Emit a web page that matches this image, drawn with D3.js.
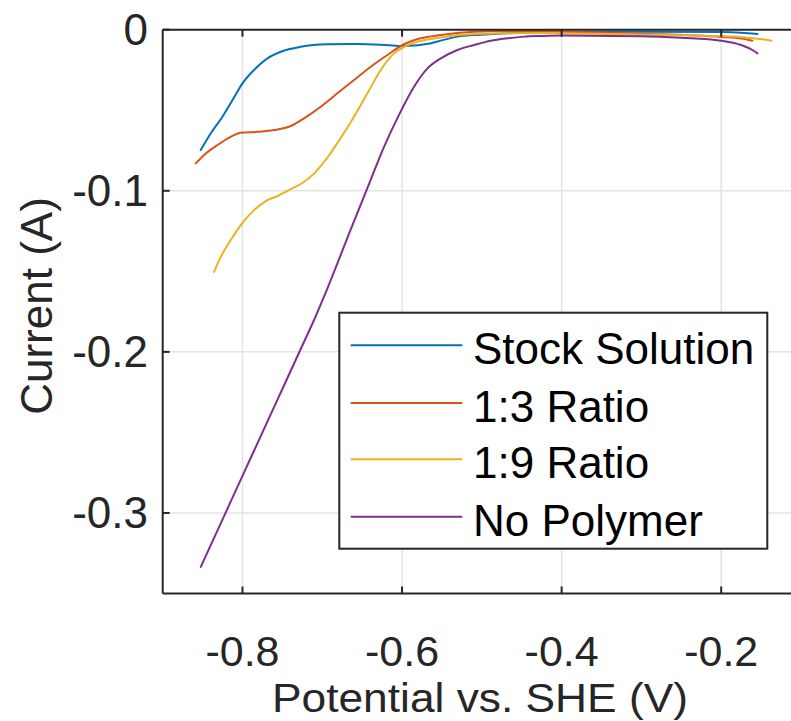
<!DOCTYPE html>
<html>
<head>
<meta charset="utf-8">
<script src="https://cdn.jsdelivr.net/npm/d3@7"></script>
<style>
  html, body { margin: 0; padding: 0; background: #fff; overflow: hidden; }
  svg { display: block; }
  text { font-family: "Liberation Sans", Arial, Helvetica, sans-serif; }
</style>
</head>
<body>
<svg id="chart" width="791" height="721"></svg>
<script>
// ---------- data ----------
const seriesNames = ["Stock Solution", "1:3 Ratio", "1:9 Ratio", "No Polymer"];
const seriesColors = ["#0072BD", "#D95319", "#EDB120", "#7E2F8E"];

const xTicks = [-0.8, -0.6, -0.4, -0.2];
const xTickLabels = ["-0.8", "-0.6", "-0.4", "-0.2"];
const yTicks = [0, -0.1, -0.2, -0.3];
const yTickLabels = ["0", "-0.1", "-0.2", "-0.3"];

const stockV = [-0.8523,-0.8397,-0.8251,-0.8125,-0.8000,-0.7855,-0.7687,-0.7520,-0.7269,-0.6935,-0.6601,-0.6267,-0.6018,-0.5800,-0.5650,-0.5515,-0.5306,-0.5014,-0.4679,-0.4262,-0.4000,-0.3000,-0.2000,-0.1750,-0.1546];
const stockI = [-0.0747,-0.0643,-0.0540,-0.0437,-0.0333,-0.0250,-0.0178,-0.0137,-0.0106,-0.0091,-0.0089,-0.0093,-0.0101,-0.0096,-0.0086,-0.0068,-0.0043,-0.0031,-0.0022,-0.0017,-0.0013,-0.0012,-0.0015,-0.0019,-0.0027];

const r13V = [-0.8585,-0.8481,-0.8313,-0.8147,-0.8021,-0.7812,-0.7604,-0.7395,-0.7228,-0.7019,-0.6810,-0.6602,-0.6392,-0.6183,-0.5995,-0.5766,-0.5515,-0.5098,-0.4679,-0.4262,-0.4000,-0.3000,-0.2000,-0.1750,-0.1610];
const r13I = [-0.0830,-0.0778,-0.0716,-0.0665,-0.0640,-0.0634,-0.0623,-0.0598,-0.0550,-0.0478,-0.0395,-0.0312,-0.0230,-0.0157,-0.0095,-0.0053,-0.0033,-0.0012,-0.0008,-0.0008,-0.0012,-0.0025,-0.0045,-0.0055,-0.0068];

const r19V = [-0.8356,-0.8272,-0.8147,-0.8021,-0.7855,-0.7687,-0.7561,-0.7436,-0.7228,-0.7100,-0.6996,-0.6900,-0.6810,-0.6602,-0.6434,-0.6267,-0.6100,-0.5975,-0.5850,-0.5515,-0.5098,-0.4262,-0.4000,-0.3000,-0.2000,-0.1600,-0.1370];
const r19I = [-0.1503,-0.1410,-0.1306,-0.1213,-0.1120,-0.1058,-0.1033,-0.1000,-0.0944,-0.0892,-0.0832,-0.0770,-0.0703,-0.0540,-0.0395,-0.0250,-0.0147,-0.0106,-0.0081,-0.0048,-0.0027,-0.0020,-0.0022,-0.0030,-0.0039,-0.0053,-0.0068];

const noPolV = [-0.8523,-0.8356,-0.8188,-0.8000,-0.7771,-0.7520,-0.7270,-0.7103,-0.6977,-0.6643,-0.6392,-0.6226,-0.6040,-0.5850,-0.5682,-0.5515,-0.5306,-0.5098,-0.4889,-0.4679,-0.4471,-0.4262,-0.4000,-0.3000,-0.2500,-0.2000,-0.1750,-0.1610,-0.1546];
const noPolI = [-0.3335,-0.3155,-0.2973,-0.2770,-0.2523,-0.2252,-0.1982,-0.1802,-0.1656,-0.1240,-0.0930,-0.0727,-0.0530,-0.0354,-0.0240,-0.0178,-0.0126,-0.0095,-0.0068,-0.0053,-0.0043,-0.0039,-0.0036,-0.0040,-0.0050,-0.0068,-0.0095,-0.0126,-0.0147];

const seriesV = [stockV, r13V, r19V, noPolV];
const seriesI = [stockI, r13I, r19I, noPolI];

// ---------- layout ----------
const svg = d3.select("#chart");
const pLeft = 162.7, pRight = 801, pTop = 29.7, pBottom = 593.5;
const x = d3.scaleLinear().domain([-0.9, -0.1]).range([pLeft, pRight]);
const y = d3.scaleLinear().domain([-0.35, 0]).range([pBottom, pTop]);
const axisColor = "#262626";
const tickFont = 43;
const titleFont = 40;
const legendFont = 44;

// grid
const grid = svg.append("g");
grid.selectAll("line.gx").data(xTicks).join("line")
  .attr("class", "gx")
  .attr("x1", d => x(d)).attr("x2", d => x(d))
  .attr("y1", pTop).attr("y2", pBottom)
  .attr("stroke", "#e3e3e3").attr("stroke-width", 1.5);
grid.selectAll("line.gy").data(yTicks).join("line")
  .attr("class", "gy")
  .attr("x1", pLeft).attr("x2", pRight)
  .attr("y1", d => y(d)).attr("y2", d => y(d))
  .attr("stroke", "#e3e3e3").attr("stroke-width", 1.5);

// series lines
const line = d3.line().curve(d3.curveMonotoneX);
const plot = svg.append("g");
seriesNames.forEach((name, i) => {
  const pts = seriesV[i].map((v, k) => [x(v), y(seriesI[i][k])]);
  plot.append("path")
    .attr("d", line(pts))
    .attr("fill", "none")
    .attr("stroke", seriesColors[i])
    .attr("stroke-width", 2)
    .attr("stroke-linejoin", "round")
    .attr("stroke-linecap", "round");
});

// axes box (MATLAB style, ticks inward)
const ax = svg.append("g");
ax.append("line").attr("x1", pLeft).attr("x2", pRight).attr("y1", pTop).attr("y2", pTop)
  .attr("stroke", axisColor).attr("stroke-width", 2);
ax.append("line").attr("x1", pLeft).attr("x2", pRight).attr("y1", pBottom).attr("y2", pBottom)
  .attr("stroke", axisColor).attr("stroke-width", 2);
ax.append("line").attr("x1", pLeft).attr("x2", pLeft).attr("y1", pTop).attr("y2", pBottom)
  .attr("stroke", axisColor).attr("stroke-width", 2);

const tickLen = 7;
xTicks.forEach(t => {
  ax.append("line").attr("x1", x(t)).attr("x2", x(t)).attr("y1", pBottom).attr("y2", pBottom - tickLen)
    .attr("stroke", axisColor).attr("stroke-width", 2);
  ax.append("line").attr("x1", x(t)).attr("x2", x(t)).attr("y1", pTop).attr("y2", pTop + tickLen)
    .attr("stroke", axisColor).attr("stroke-width", 2);
});
yTicks.forEach(t => {
  ax.append("line").attr("x1", pLeft).attr("x2", pLeft + tickLen).attr("y1", y(t)).attr("y2", y(t))
    .attr("stroke", axisColor).attr("stroke-width", 2);
});

// tick labels
svg.append("g").selectAll("text").data(xTicks).join("text")
  .attr("x", d => x(d)).attr("y", 666)
  .attr("text-anchor", "middle")
  .attr("font-size", tickFont).attr("fill", axisColor)
  .text((d, i) => xTickLabels[i]);
svg.append("g").selectAll("text").data(yTicks).join("text")
  .attr("x", 148).attr("y", d => y(d) + 15.5)
  .attr("text-anchor", "end")
  .attr("font-size", tickFont + 1).attr("fill", axisColor)
  .text((d, i) => yTickLabels[i]);

// axis titles
svg.append("text")
  .attr("x", 480).attr("y", 712)
  .attr("text-anchor", "middle")
  .attr("font-size", titleFont).attr("fill", axisColor)
  .attr("textLength", 416).attr("lengthAdjust", "spacingAndGlyphs")
  .text("Potential vs. SHE (V)");
svg.append("text")
  .attr("transform", `translate(52, 306) rotate(-90)`)
  .attr("text-anchor", "middle")
  .attr("font-size", 44).attr("fill", axisColor)
  .text("Current (A)");

// legend
const lg = svg.append("g");
lg.append("rect")
  .attr("x", 339.3).attr("y", 312.7).attr("width", 428).attr("height", 236)
  .attr("fill", "#fff").attr("stroke", axisColor).attr("stroke-width", 2);
const rowY = [345.3, 403, 459.3, 516.7];
seriesNames.forEach((name, i) => {
  lg.append("line")
    .attr("x1", 350.7).attr("x2", 462.3)
    .attr("y1", rowY[i]).attr("y2", rowY[i])
    .attr("stroke", seriesColors[i]).attr("stroke-width", 2);
  lg.append("text")
    .attr("x", 473).attr("y", rowY[i] + 19)
    .attr("font-size", legendFont).attr("fill", "#000")
    .text(name);
});
</script>
</body>
</html>
